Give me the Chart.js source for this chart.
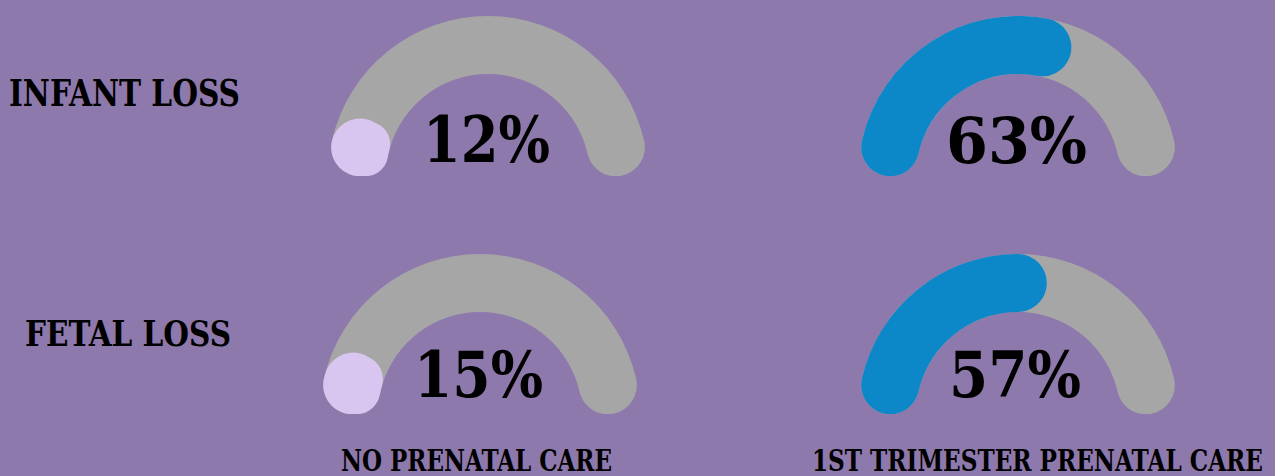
<!DOCTYPE html>
<html lang="en">
<head>
    <meta charset="UTF-8">
    <title>Infant and Fetal Loss by Prenatal Care</title>
    <style>
        body {
            margin: 0;
            width: 1275px;
            height: 476px;
            background-color: #8e79ad;
            position: relative;
            overflow: hidden;
            font-family: "DejaVu Serif Condensed", "DejaVu Serif", serif;
            font-stretch: condensed;
            font-weight: bold;
            color: #000;
        }

        .gauge {
            position: absolute;
            width: 320px;
            height: 160px;
        }

        .gauge canvas {
            position: absolute;
            left: 0;
            top: 0;
        }

        .txt {
            position: absolute;
            white-space: nowrap;
            line-height: 1;
            transform-origin: 0 0;
        }

        .bl {
            display: inline-block;
            width: 0;
            height: 0;
            vertical-align: baseline;
        }
    </style>
</head>
<body>
    <script src="https://cdn.jsdelivr.net/npm/chart.js"></script>

    <script>
        // data
        const rowLabels = ['INFANT LOSS', 'FETAL LOSS'];
        const colLabels = ['NO PRENATAL CARE', '1ST TRIMESTER PRENATAL CARE'];
        const noCareValues = [12, 15];       // infant, fetal
        const firstTriValues = [63, 57];     // infant, fetal
        const colColors = ['#d8c6f0', '#0c88c9'];
        const trackColor = '#a6a6a6';

        // layout: gauge centres (bottom middle of each half ring)
        const gaugeCenters = [
            [[488, 176], [1018, 176]],
            [[480, 414], [1018, 414]]
        ];
        const outerR = 160;
        const thickness = 58;
        // small values still show as a round dot (the rounded caps need some room)
        const minArcPct = 14;

        function addText(str, size, left, right, baseline) {
            const el = document.createElement('div');
            el.className = 'txt';
            el.style.fontSize = size + 'px';
            el.textContent = str;
            const mark = document.createElement('span');
            mark.className = 'bl';
            el.appendChild(mark);
            document.body.appendChild(el);
            const w = el.getBoundingClientRect().width;
            el.style.left = left + 'px';
            el.style.top = (baseline - mark.offsetTop) + 'px';
            el.style.transform = 'scaleX(' + ((right - left) / w) + ')';
        }

        function makeChart(canvas, data, colors, radii) {
            return new Chart(canvas.getContext('2d'), {
                type: 'doughnut',
                data: {
                    datasets: [{
                        data: data,
                        backgroundColor: colors,
                        borderWidth: 0,
                        borderRadius: (ctx) => radii[ctx.dataIndex]
                    }]
                },
                options: {
                    responsive: false,
                    devicePixelRatio: 1,
                    animation: false,
                    events: [],
                    rotation: -90,
                    circumference: 180,
                    cutout: ((outerR - thickness) / outerR * 100) + '%',
                    layout: { padding: 0 },
                    plugins: {
                        legend: { display: false },
                        tooltip: { enabled: false }
                    }
                }
            });
        }

        function addGauge(cx, cy, value, color) {
            const box = document.createElement('div');
            box.className = 'gauge';
            box.style.left = (cx - outerR) + 'px';
            box.style.top = (cy - outerR) + 'px';
            document.body.appendChild(box);

            const back = document.createElement('canvas');
            back.width = outerR * 2;
            back.height = outerR;
            box.appendChild(back);
            const front = document.createElement('canvas');
            front.width = outerR * 2;
            front.height = outerR;
            box.appendChild(front);

            const r = thickness / 2;
            const shown = Math.max(value, minArcPct);
            makeChart(back, [100], [trackColor], [r]);
            makeChart(front, [shown, 100 - shown], [color, 'rgba(0,0,0,0)'], [r, 0]);
        }

        const cols = [noCareValues, firstTriValues];
        for (let row = 0; row < 2; row++) {
            for (let col = 0; col < 2; col++) {
                const [cx, cy] = gaugeCenters[row][col];
                addGauge(cx, cy, cols[col][row], colColors[col]);
            }
        }

        // big percentages
        addText(noCareValues[0] + '%', 64, 423, 550, 162);
        addText(firstTriValues[0] + '%', 64, 946, 1087, 163);
        addText(noCareValues[1] + '%', 64, 414, 543, 397);
        addText(firstTriValues[1] + '%', 64, 949, 1081, 397);

        // row and column labels
        addText(rowLabels[0], 37, 9, 240, 106);
        addText(rowLabels[1], 35, 25, 231, 346);
        addText(colLabels[0], 30, 341, 612, 471);
        addText(colLabels[1], 30, 812, 1263, 471);
    </script>
</body>
</html>
